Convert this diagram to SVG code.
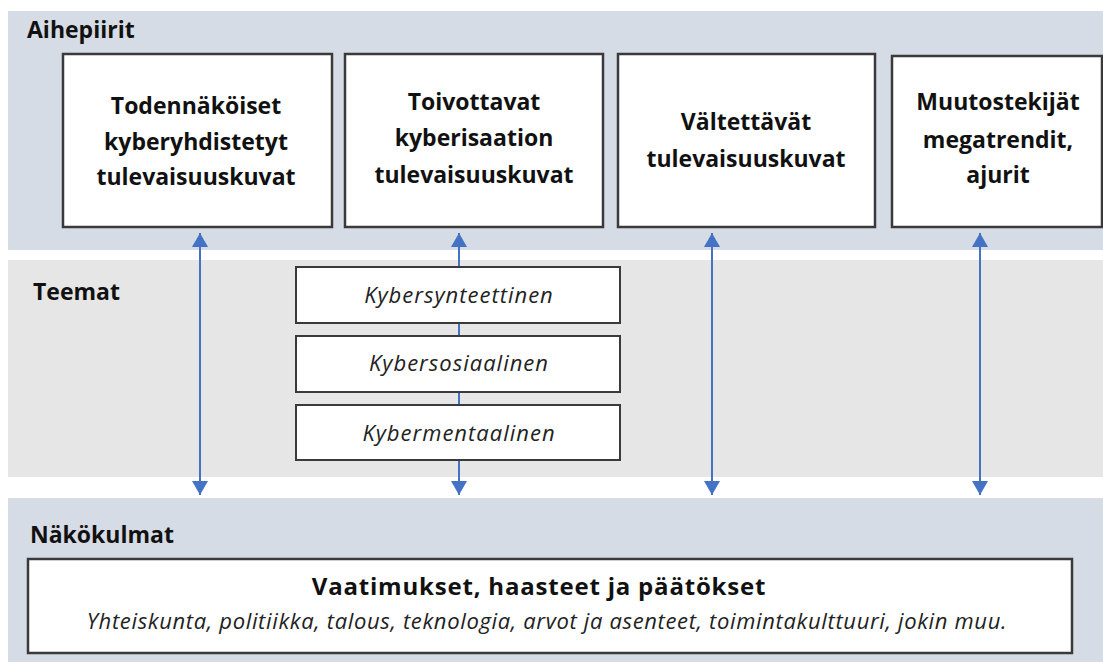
<svg xmlns="http://www.w3.org/2000/svg" width="1103" height="662" viewBox="0 0 1103 662">
<style>
.band-a{fill:#D6DCE5}
.band-b{fill:#E7E6E6}
.sec{font-family:"Open Sans","Liberation Sans",sans-serif;font-weight:bold;font-size:23px;fill:#111}
.box{fill:#fff;stroke:#3a3a3a;stroke-width:2.5}
.tbox{fill:#fff;stroke:#3a3a3a;stroke-width:2}
.bt{font-family:"Open Sans","Liberation Sans",sans-serif;font-weight:bold;font-size:23px;fill:#111;text-anchor:middle}
.it{font-family:"Open Sans","Liberation Sans",sans-serif;font-style:italic;font-size:22px;letter-spacing:1px;fill:#222;text-anchor:middle}
.conn{stroke:#4472C4;stroke-width:2;fill:none;marker-start:url(#ah);marker-end:url(#ah)}
</style>
<defs>
<marker id="ah" markerUnits="userSpaceOnUse" viewBox="0 0 14 16" markerWidth="14" markerHeight="16" refX="14" refY="8" orient="auto-start-reverse">
<path d="M0,0 L14,8 L0,16 Z" fill="#4472C4"/>
</marker>
</defs>
<rect width="1103" height="662" fill="#fff"/>
<g id="bands">
<rect class="band-a" x="8" y="11" width="1095" height="239"/>
<rect class="band-b" x="8" y="260" width="1095" height="217"/>
<rect class="band-a" x="8" y="498" width="1095" height="164"/>
<text class="sec" x="27" y="38">Aihepiirit</text>
<text class="sec" x="33" y="300">Teemat</text>
<text class="sec" x="30" y="543">Näkökulmat</text>
</g>
<g id="connectors">
<line class="conn" x1="200" y1="233" x2="200" y2="495"/>
<line class="conn" x1="459" y1="233" x2="459" y2="495"/>
<line class="conn" x1="712" y1="233" x2="712" y2="495"/>
<line class="conn" x1="980" y1="233" x2="980" y2="495"/>
</g>
<g id="node-todennakoiset">
<rect class="box" x="63" y="54" width="269" height="173"/>
<text class="bt" x="196" y="114">Todennäköiset</text>
<text class="bt" x="196" y="150">kyberyhdistetyt</text>
<text class="bt" x="196" y="185">tulevaisuuskuvat</text>
</g>
<g id="node-toivottavat">
<rect class="box" x="345" y="54" width="258" height="173"/>
<text class="bt" x="474" y="110">Toivottavat</text>
<text class="bt" x="474" y="146">kyberisaation</text>
<text class="bt" x="474" y="183">tulevaisuuskuvat</text>
</g>
<g id="node-valtettavat">
<rect class="box" x="618" y="54" width="257" height="173"/>
<text class="bt" x="746" y="130">Vältettävät</text>
<text class="bt" x="746" y="167">tulevaisuuskuvat</text>
</g>
<g id="node-muutostekijat">
<rect class="box" x="892" y="56" width="210" height="171"/>
<text class="bt" x="998" y="110">Muutostekijät</text>
<text class="bt" x="998" y="148">megatrendit,</text>
<text class="bt" x="998" y="183">ajurit</text>
</g>
<g id="node-kybersynteettinen">
<rect class="tbox" x="296" y="267" width="324" height="56"/>
<text class="it" x="459" y="303">Kybersynteettinen</text>
</g>
<g id="node-kybersosiaalinen">
<rect class="tbox" x="296" y="336" width="324" height="56"/>
<text class="it" x="459" y="371">Kybersosiaalinen</text>
</g>
<g id="node-kybermentaalinen">
<rect class="tbox" x="296" y="405" width="324" height="55"/>
<text class="it" x="459" y="441">Kybermentaalinen</text>
</g>
<g id="node-nakokulmat">
<rect class="box" x="28" y="559" width="1044" height="94"/>
<text class="bt" x="539" y="595" style="font-size:24px;letter-spacing:0.8px">Vaatimukset, haasteet ja päätökset</text>
<text class="it" x="547" y="629" style="letter-spacing:0.65px">Yhteiskunta, politiikka, talous, teknologia, arvot ja asenteet, toimintakulttuuri, jokin muu.</text>
</g>
</svg>
